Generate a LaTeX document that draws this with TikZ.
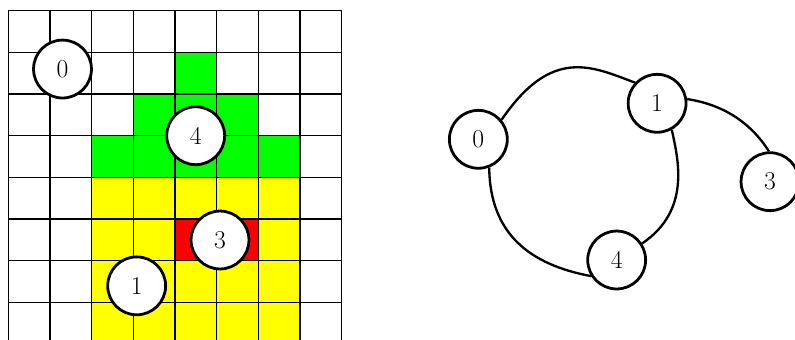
\documentclass[tikz,border=0pt]{standalone}
\definecolor{ggreen}{RGB}{0,255,0}
\definecolor{gyellow}{RGB}{255,255,0}
\definecolor{gred}{RGB}{255,0,0}
\begin{document}
\begin{tikzpicture}[
  gridline/.style={line width=0.9pt},
  vtx/.style={circle, draw, line width=1.9pt, fill=white, minimum size=1.39cm, inner sep=0pt, font=\fontsize{17.5}{20}\selectfont},
  link/.style={line width=1.6pt},
]
\useasboundingbox (0,0) rectangle (19.08,-8.136);
\clip (0,0) rectangle (19.08,-8.136);
\begin{scope}[shift={(0.2,-0.257)}, yscale=-1]
  \fill[ggreen] (4,1) rectangle (5,2);
  \fill[ggreen] (3,2) rectangle (6,3);
  \fill[ggreen] (2,3) rectangle (7,4);
  \fill[gyellow] (2,4) rectangle (7,9);
  \fill[gred] (4,5) rectangle (6,6);
  \draw[gridline] (0,0) grid (8,9);
\end{scope}
\node[vtx] (n0) at (1.50,-1.657) {0};
\node[vtx] (n4) at (4.697,-3.257) {4};
\node[vtx] (n3) at (5.28,-5.76) {3};
\node[vtx] (n1) at (3.28,-6.86) {1};

\node[vtx] (g0) at (11.48,-3.343) {0};
\node[vtx] (g1) at (15.77,-2.479) {1};
\node[vtx] (g3) at (18.48,-4.36) {3};
\node[vtx] (g4) at (14.80,-6.24) {4};

\draw[link] (g0.40.7) .. controls (13.25,-1.10) and (14.221,-1.603) .. (g1.137.7);
\draw[link] (g0.-69) .. controls (11.759,-5.640) and (12.748,-6.357) .. (g4.212);
\draw[link] (g1.-61.5) .. controls (16.278,-3.833) and (16.585,-5.047) .. (g4.33.7);
\draw[link] (g1.8) .. controls (17.341,-2.508) and (18.006,-2.925) .. (g3.92);
\end{tikzpicture}
\end{document}
